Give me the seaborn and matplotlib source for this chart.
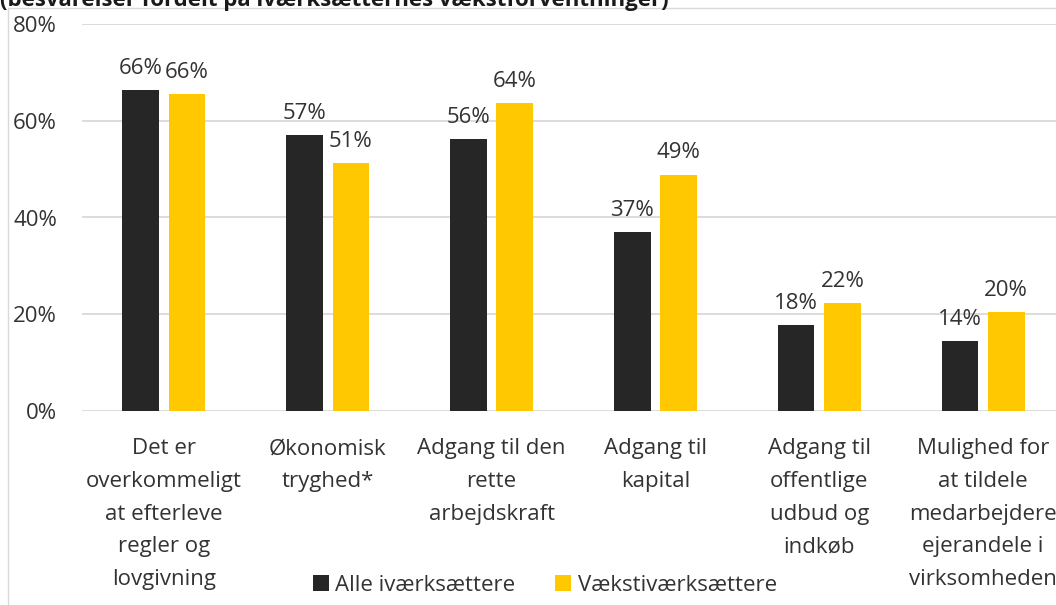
import matplotlib
matplotlib.use("Agg")
import matplotlib.pyplot as plt
from matplotlib.patches import Rectangle
import seaborn as sns
import pandas as pd

# data (percent)
kategorier = [
    "Det er\noverkommeligt\nat efterleve\nregler og\nlovgivning",
    "Økonomisk\ntryghed*",
    "Adgang til den\nrette\narbejdskraft",
    "Adgang til\nkapital",
    "Adgang til\noffentlige\nudbud og\nindkøb",
    "Mulighed for\nat tildele\nmedarbejdere\nejerandele i\nvirksomheden",
]
grupper = ["Alle iværksættere", "Vækstiværksættere"]
alle = [66.4, 57.1, 56.2, 36.9, 17.7, 14.4]
vaekst = [65.6, 51.2, 63.7, 48.9, 22.3, 20.4]
y_ticks = [0, 20, 40, 60, 80]
titel = "(besvarelser fordelt på iværksætternes vækstforventninger)"

farver = ["#262626", "#FFC800"]
tekst_farve = "#333333"
grid_farve = "#D9D9D9"

df = pd.DataFrame({
    "kategori": kategorier * 2,
    "gruppe": [grupper[0]] * len(alle) + [grupper[1]] * len(vaekst),
    "andel": alle + vaekst,
})

sns.set_style("white")
plt.rcParams["font.family"] = ["Open Sans", "DejaVu Sans"]
plt.rcParams["font.size"] = 16
plt.rcParams["text.color"] = tekst_farve

fig = plt.figure(figsize=(10.56, 6.05), dpi=100)
ax = fig.add_axes([82 / 1056, 1 - 410.7 / 605, 983 / 1056, 386.4 / 605])

sns.barplot(data=df, x="kategori", y="andel", hue="gruppe", palette=farver,
            width=0.566, gap=0.21, ax=ax, saturation=1, edgecolor="none",
            errorbar=None)

for cont in ax.containers:
    vals = cont.datavalues
    ax.bar_label(cont, labels=[f"{round(v)}%" for v in vals], padding=8,
                 fontsize=16, color=tekst_farve)

ax.set_xlim(-0.5, 5.5)
ax.set_ylim(0, 80)
ax.set_yticks(y_ticks)
ax.set_yticklabels([f"{t}%" for t in y_ticks])
ax.set_xlabel("")
ax.set_ylabel("")
ax.grid(axis="y", color=grid_farve, linewidth=1.3)
ax.set_axisbelow(True)
for s in ax.spines.values():
    s.set_visible(False)
ax.tick_params(axis="y", length=0, pad=18, labelsize=16, labelcolor=tekst_farve)
ax.tick_params(axis="x", length=0, pad=20, labelsize=16, labelcolor=tekst_farve)
for lab in ax.get_xticklabels():
    lab.set_linespacing(1.72)

handles, labels = ax.get_legend_handles_labels()
ax.legend(handles, labels, loc="center", bbox_to_anchor=(0.516, 0.033),
          bbox_transform=fig.transFigure, ncol=2, frameon=False,
          handlelength=0.7, handleheight=0.7, handletextpad=0.3,
          columnspacing=1.8, fontsize=16)

# chart area border (cropped on the right/bottom in the reference)
fig.patches.append(Rectangle((8 / 1056, -0.1), 2, 1.1 - 8 / 605,
                             transform=fig.transFigure, fill=False,
                             edgecolor=grid_farve, linewidth=1))

fig.text(0.0, 1 - 6 / 605, titel, fontsize=16, fontweight="bold",
         color="#1a1a1a", ha="left", va="baseline")

fig.savefig("out.png", dpi=100)
